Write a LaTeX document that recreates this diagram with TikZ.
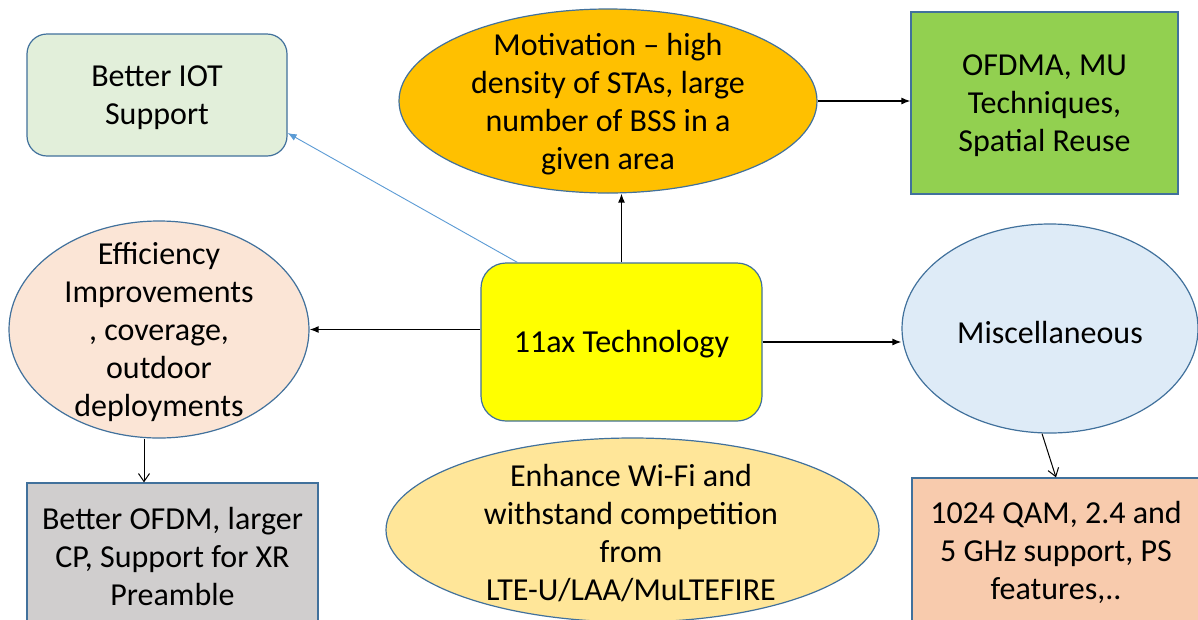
\documentclass[tikz,border=0pt]{standalone}
\usepackage{fontspec}
\setmainfont{Carlito}
\usetikzlibrary{shapes.geometric,arrows.meta}
\definecolor{bordblue}{HTML}{41719C}
\definecolor{lineblue}{HTML}{5B9BD5}
\definecolor{iotfill}{HTML}{E2EFDA}
\definecolor{motfill}{HTML}{FFC000}
\definecolor{ofdmafill}{HTML}{92D050}
\definecolor{efffill}{HTML}{FBE5D6}
\definecolor{techfill}{HTML}{FFFF00}
\definecolor{miscfill}{HTML}{DEEBF7}
\definecolor{ofdmfill}{HTML}{D0CECE}
\definecolor{enhfill}{HTML}{FFE699}
\definecolor{qamfill}{HTML}{F8CBAD}
\tikzset{
  txt/.style={font=\fontsize{32}{38}\selectfont, align=center, inner sep=0pt, yshift=-2.5pt},
  boxshape/.style={draw=bordblue, line width=1.2pt, rectangle, inner sep=0pt},
  ellshape/.style={draw=bordblue, line width=1.2pt, ellipse, inner sep=0pt},
  arr/.style={line width=1.3pt, -{Latex[length=9pt,width=7pt]}},
  openarr/.style={line width=1pt, -{Straight Barb[length=8pt,width=11pt]}},
  bluearr/.style={draw=lineblue, line width=0.9pt, -{Latex[length=9pt,width=7pt]}}
}
\begin{document}
\begin{tikzpicture}[x=1pt,y=-1pt]
\useasboundingbox (0,0) rectangle (1198,619);
\clip (0,0) rectangle (1198,619);
\fill[white] (0,0) rectangle (1198,619);

% Better IOT
\node[boxshape, fill=iotfill, rounded corners=20pt, minimum width=260pt, minimum height=122pt] (iot) at (157,95) {};
\node[txt] (iott) at (iot.center) {Better IOT\\Support};

% Motivation
\node[ellshape, fill=motfill, minimum width=418pt, minimum height=184pt] (motiv) at (608,101) {};
\node[txt] (motivt) at (608,102) {Motivation -- high\\density of STAs, large\\number of BSS in a\\given area};

% OFDMA
\node[boxshape, fill=ofdmafill, minimum width=267pt, minimum height=182pt] (ofdma) at (1044.5,103) {};
\node[txt] (ofdmat) at (ofdma.center) {OFDMA, MU\\Techniques,\\Spatial Reuse};

% Efficiency
\node[ellshape, fill=efffill, minimum width=300pt, minimum height=217pt] (eff) at (159,329.5) {};
\node[txt] (efft) at (159,330) {Efficiency\\Improvements\\, coverage,\\outdoor\\deployments};

% 11ax Technology
\node[boxshape, fill=techfill, rounded corners=25pt, minimum width=281pt, minimum height=158pt] (tech) at (621.5,342) {};
\node[txt] (techt) at (tech.center) {11ax Technology};

% Miscellaneous
\node[ellshape, fill=miscfill, minimum width=296pt, minimum height=209pt] (misc) at (1050,328.5) {};
\node[txt] (misct) at (1050,330) {Miscellaneous};

% Better OFDM
\node[boxshape, fill=ofdmfill, minimum width=291pt, minimum height=142pt] (ofdm) at (172.5,554) {};
\node[txt] (ofdmt) at (172.5,554) {Better OFDM, larger\\CP, Support for XR\\Preamble};

% Enhance
\node[ellshape, fill=enhfill, minimum width=493pt, minimum height=184pt] (enh) at (632.5,530) {};
\node[txt] (enht) at (631,531) {Enhance Wi-Fi and\\withstand competition\\from\\LTE-U/LAA/MuLTEFIRE};

% 1024 QAM
\node[boxshape, fill=qamfill, minimum width=288pt, minimum height=144pt] (qam) at (1056,550) {};
\node[txt] (qamt) at (1056,550) {1024 QAM, 2.4 and\\5 GHz support, PS\\features,..};

% Connectors
\draw[arr] (tech.north) -- (tech.north |- motiv.south);
\draw[arr] (motiv.east) -- (motiv.east -| ofdma.west);
\draw[arr] (tech.west |- eff.east) -- (eff.east);
\draw[arr] (tech.east) -- (tech.east -| misc.west);
\draw[bluearr] ([xshift=37pt]tech.north west) -- ([yshift=-38pt]iot.east);
\draw[openarr] ([xshift=-15pt]eff.south) -- ([xshift=-15pt]eff.south |- ofdm.north);
\draw[openarr] ([xshift=-8pt]misc.south) -- (qam.north);
\end{tikzpicture}
\end{document}
